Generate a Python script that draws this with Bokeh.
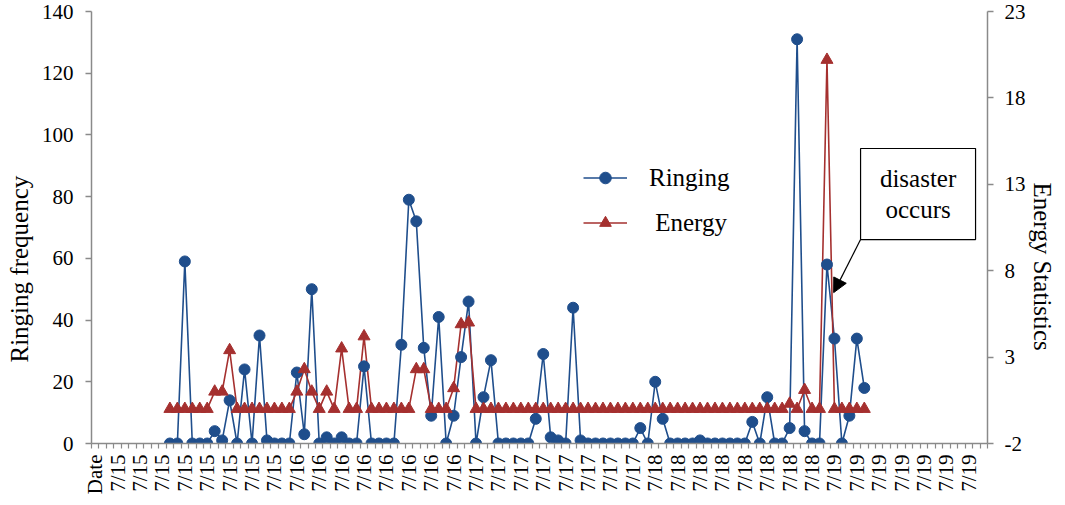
import math
from bokeh.plotting import figure
from bokeh.models import (Range1d, LinearAxis, FixedTicker, Legend, LegendItem,
                          Label, BoxAnnotation, Arrow, NormalHead, ColumnDataSource, Title)
from bokeh.embed import file_html
from bokeh.resources import INLINE

# ---------------- data ----------------
tick_labels = ["Date",
               "7/15", "7/15", "7/15", "7/15", "7/15", "7/15", "7/15", "7/15",
               "7/16", "7/16", "7/16", "7/16", "7/16", "7/16", "7/16", "7/16",
               "7/17", "7/17", "7/17", "7/17", "7/17", "7/17", "7/17", "7/17",
               "7/18", "7/18", "7/18", "7/18", "7/18", "7/18", "7/18", "7/18",
               "7/19", "7/19", "7/19", "7/19", "7/19", "7/19", "7/19"]
n_categories = 120
label_every = 3
first_point = 10

ringing = [0, 0, 59, 0, 0, 0, 4, 1, 14, 0,
           24, 0, 35, 1, 0, 0, 0, 23, 3, 50,
           0, 2, 0, 2, 0, 0, 25, 0, 0, 0,
           0, 32, 79, 72, 31, 9, 41, 0, 9, 28,
           46, 0, 15, 27, 0, 0, 0, 0, 0, 8,
           29, 2, 1, 0, 44, 1, 0, 0, 0, 0,
           0, 0, 0, 5, 0, 20, 8, 0, 0, 0,
           0, 1, 0, 0, 0, 0, 0, 0, 7, 0,
           15, 0, 0, 5, 131, 4, 0, 0, 58, 34,
           0, 9, 34, 18]

energy = [0, 0, 0, 0, 0, 0, 1, 1, 3.4, 0,
          0, 0, 0, 0, 0, 0, 0, 1, 2.3, 1,
          0, 1, 0, 3.5, 0, 0, 4.2, 0, 0, 0,
          0, 0, 0, 2.3, 2.3, 0, 0, 0, 1.2, 4.9,
          5.0, 0, 0, 0, 0, 0, 0, 0, 0, 0,
          0, 0, 0, 0, 0, 0, 0, 0, 0, 0,
          0, 0, 0, 0, 0, 0, 0, 0, 0, 0,
          0, 0, 0, 0, 0, 0, 0, 0, 0, 0,
          0, 0, 0, 0.3, 0, 1.1, 0, 0, 20.2, 0,
          0, 0, 0, 0]

left_ticks = [0, 20, 40, 60, 80, 100, 120, 140]
right_ticks = [-2, 3, 8, 13, 18, 23]

# ---------------- style ----------------
FONT = "Liberation Serif"
GRAY = "#8a8a8a"
BLUE = "#1F4E8C"
RED = "#A5302F"

xs = [first_point + k for k in range(len(ringing))]
src = ColumnDataSource(dict(x=xs, ringing=ringing, energy=energy))

p = figure(width=1057, height=497, output_backend="svg", toolbar_location=None,
           x_range=Range1d(-0.5, n_categories - 0.5),
           y_range=Range1d(left_ticks[0], left_ticks[-1]),
           x_axis_location=None, y_axis_location=None,
           min_border_left=91, min_border_right=68,
           min_border_top=11, min_border_bottom=54)
p.extra_y_ranges = {"energy": Range1d(right_ticks[0], right_ticks[-1])}
p.outline_line_color = None
p.background_fill_color = "white"
p.border_fill_color = "white"
p.grid.visible = False


def style_axis(ax):
    ax.axis_line_color = GRAY
    ax.axis_line_width = 1.5
    ax.major_tick_line_color = GRAY
    ax.major_tick_line_width = 1.5
    ax.minor_tick_line_color = GRAY
    ax.minor_tick_line_width = 1.2
    ax.major_label_text_font = FONT
    ax.major_label_text_font_size = "21px"
    ax.major_label_text_color = "black"
    ax.axis_label_standoff = 0


# bottom category axis
major_pos = [label_every * k for k in range(len(tick_labels))]
xaxis = LinearAxis(ticker=FixedTicker(ticks=major_pos,
                                      minor_ticks=[k - 0.5 for k in range(n_categories + 1)]))
xaxis.major_label_overrides = {pos: lab for pos, lab in zip(major_pos, tick_labels)}
style_axis(xaxis)
xaxis.major_label_orientation = math.pi / 2
xaxis.major_tick_out = 0
xaxis.major_tick_in = 0
xaxis.minor_tick_out = 5
xaxis.minor_tick_in = 0
xaxis.major_label_standoff = 6
p.add_layout(xaxis, "below")

# left axis
yaxis = LinearAxis(ticker=FixedTicker(ticks=left_ticks))
style_axis(yaxis)
yaxis.major_tick_out = 6
yaxis.major_tick_in = 0
yaxis.minor_tick_line_color = None
yaxis.major_label_standoff = 12
p.add_layout(yaxis, "left")

# right axis
raxis = LinearAxis(y_range_name="energy", ticker=FixedTicker(ticks=right_ticks))
style_axis(raxis)
raxis.major_tick_out = 6
raxis.major_tick_in = 0
raxis.minor_tick_line_color = None
raxis.major_label_standoff = 11
raxis.major_label_overrides = {t: str(t) for t in right_ticks}
p.add_layout(raxis, "right")

# axis titles (side titles, shifted along the axis like the original)
p.add_layout(Title(text="Ringing frequency", align="left", offset=81,
                   vertical_align="top",
                   text_font=FONT, text_font_size="25px", text_font_style="normal",
                   text_color="black", standoff=8), "left")
p.add_layout(Title(text="Energy Statistics", align="left", offset=171,
                   text_font=FONT, text_font_size="25px", text_font_style="normal",
                   text_color="black", standoff=0), "right")

# series
r_line = p.line("x", "ringing", source=src, line_color=BLUE, line_width=1.6)
e_line = p.line("x", "energy", source=src, y_range_name="energy",
                line_color=RED, line_width=1.6)
r_pts = p.scatter("x", "ringing", source=src, marker="circle", size=11,
                  fill_color=BLUE, line_color=BLUE)
e_pts = p.scatter("x", "energy", source=src, y_range_name="energy",
                  marker="triangle", size=12, fill_color=RED, line_color=RED)

# legend
legend = Legend(items=[LegendItem(label="Ringing", renderers=[r_line, r_pts]),
                       LegendItem(label=" Energy", renderers=[e_line, e_pts])],
                location=(492, 206), orientation="vertical",
                border_line_color=None, background_fill_alpha=0,
                label_text_font=FONT, label_text_font_size="25px",
                label_text_color="black",
                glyph_width=44, glyph_height=29, label_height=29,
                spacing=16, padding=0, margin=0, label_standoff=22)
p.add_layout(legend)

# annotation box with arrow
p.add_layout(BoxAnnotation(left=102.5, right=117.9, bottom=66.1, top=95.6,
                           fill_color="white", fill_alpha=1.0,
                           line_color="black", line_width=1.2, line_alpha=1.0))
for txt, yy in (("disaster", 85.9), ("occurs", 75.8)):
    p.add_layout(Label(x=110.2, y=yy, text=txt, text_align="center",
                       text_baseline="middle", text_font=FONT,
                       text_font_size="25px", text_color="black"))
p.add_layout(Arrow(x_start=102.5, y_start=66.1, x_end=98.9, y_end=48.9,
                   line_color="black", line_width=1.2,
                   end=NormalHead(size=14, fill_color="black", line_color="black")))

open("out.html", "w").write(file_html(p, INLINE))
